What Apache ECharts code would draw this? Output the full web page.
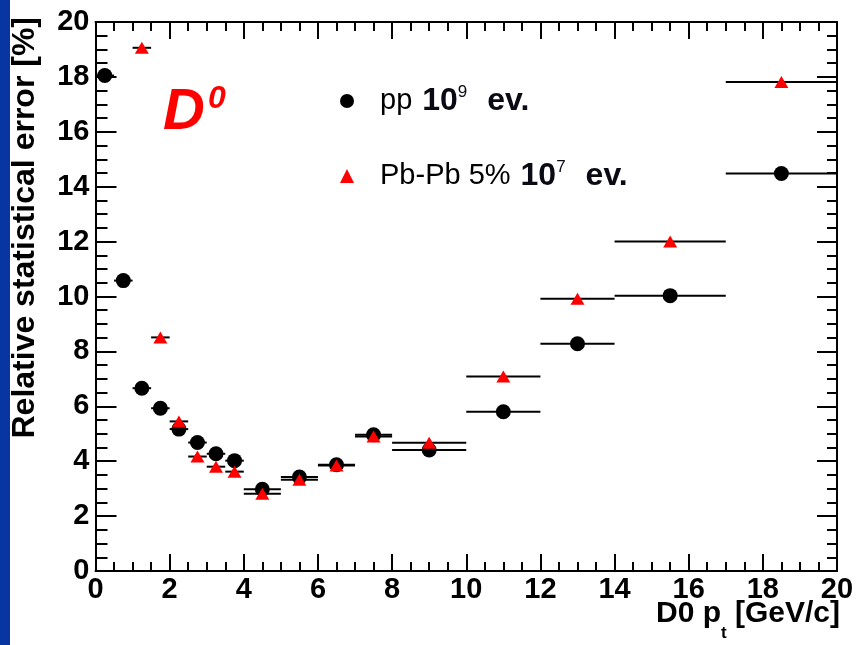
<!DOCTYPE html>
<html>
<head>
<meta charset="utf-8">
<script src="https://cdn.jsdelivr.net/npm/echarts@6/dist/echarts.min.js"></script>
<style>
  html, body { margin: 0; padding: 0; background: #fff; }
  #chart { width: 861px; height: 645px; }
</style>
</head>
<body>
<div id="chart"></div>
<script>
// pt bins [GeV/c]
var binLow = [0, 0.5, 1, 1.5, 2, 2.5, 3, 3.5, 4, 5, 6, 7, 8, 10, 12, 14, 17]
var binHigh = [0.5, 1, 1.5, 2, 2.5, 3, 3.5, 4, 5, 6, 7, 8, 10, 12, 14, 17, 20]
var binCenter = [0.25, 0.75, 1.25, 1.75, 2.25, 2.75, 3.25, 3.75, 4.5, 5.5, 6.5, 7.5, 9, 11, 13, 15.5, 18.5]

// relative statistical error [%]
var ppErr = [18.05, 10.58, 6.66, 5.93, 5.17, 4.68, 4.27, 4.02, 2.98, 3.42, 3.87, 4.96, 4.41, 5.8, 8.28, 10.03, 14.48]
var pbErr = [null, null, 19.06, 8.51, 5.45, 4.17, 3.8, 3.62, 2.81, 3.32, 3.84, 4.9, 4.67, 7.09, 9.92, 12.0, 17.81]

var xTicks = [0, 2, 4, 6, 8, 10, 12, 14, 16, 18, 20]
var yTicks = [0, 2, 4, 6, 8, 10, 12, 14, 16, 18, 20]

var FONT = 'Liberation Sans, Arial, sans-serif'

function points (vals) {
  var out = []
  vals.forEach(function (v, i) {
    if (v !== null) out.push([binCenter[i], v])
  })
  return out
}

function bars (vals) {
  var out = []
  vals.forEach(function (v, i) {
    if (v !== null) out.push([binLow[i], binHigh[i], v])
  })
  return out
}

function renderBar (params, api) {
  var a = api.coord([api.value(0), api.value(2)])
  var b = api.coord([api.value(1), api.value(2)])
  return {
    type: 'line',
    shape: { x1: a[0], y1: a[1], x2: b[0], y2: b[1] },
    style: { stroke: '#000', lineWidth: 2 }
  }
}

function axisBase (pos, tickLen, minorLen, showLabel) {
  var isX = pos === 'bottom' || pos === 'top'
  var ticks = isX ? xTicks : yTicks
  return {
    type: 'value',
    position: pos,
    min: ticks[0],
    max: ticks[ticks.length - 1],
    interval: ticks[1] - ticks[0],
    axisLine: { show: true, onZero: false, lineStyle: { color: '#000', width: 2 } },
    axisTick: { show: true, inside: true, length: tickLen, lineStyle: { color: '#000', width: 2 } },
    minorTick: { show: true, splitNumber: 4, length: minorLen, lineStyle: { color: '#000', width: 2 } },
    splitLine: { show: false },
    axisLabel: {
      show: showLabel,
      color: '#000',
      fontSize: 29,
      fontWeight: 'bold',
      fontFamily: FONT,
      margin: isX ? 4 : 6
    }
  }
}

var legendText = {
  pp: '{n|pp}{b|10}{s|9}{e|ev.}',
  'Pb-Pb 5%': '{n|Pb-Pb 5%}{b|10}{s|7}{e|ev.}'
}

var option = {
  animation: false,
  backgroundColor: '#fff',
  grid: { left: 95.5, right: 24, top: 22, bottom: 74 },
  xAxis: [
    axisBase('bottom', 17, 9, true),
    axisBase('top', 17, 9, false)
  ],
  yAxis: [
    axisBase('left', 21, 12, true),
    axisBase('right', 20, 10, false)
  ],
  legend: {
    orient: 'vertical',
    left: 335,
    top: 79,
    itemGap: 42,
    itemWidth: 14,
    itemHeight: 14,
    selectedMode: false,
    data: [
      { name: 'pp', icon: 'circle' },
      { name: 'Pb-Pb 5%', icon: 'triangle', itemStyle: { color: '#ff0000' } }
    ],
    formatter: function (name) { return legendText[name] },
    textStyle: {
      rich: {
        n: { fontSize: 29, fontFamily: FONT, color: '#000', lineHeight: 34, padding: [0, 10, 0, 21] },
        b: { fontSize: 32, fontWeight: 'bold', fontFamily: FONT, color: '#0a0a14', lineHeight: 34 },
        s: { fontSize: 17, fontFamily: FONT, color: '#0a0a14', lineHeight: 22, verticalAlign: 'top' },
        e: { fontSize: 32, fontWeight: 'bold', fontFamily: FONT, color: '#0a0a14', lineHeight: 34, padding: [0, 0, 0, 20] }
      }
    }
  },
  graphic: [
    { type: 'rect', left: 0, top: 0, shape: { width: 10, height: 645 }, style: { fill: '#0836a0' } },
    {
      type: 'text',
      x: 25,
      y: 17,
      rotation: Math.PI / 2,
      style: {
        text: 'Relative statistical error [%]',
        font: 'bold 32px ' + FONT,
        fill: '#000',
        align: 'right',
        verticalAlign: 'middle'
      }
    },
    {
      type: 'text',
      x: 840,
      y: 614,
      style: {
        text: '{a|D0 p}{t|t}{a| [GeV/c]}',
        fill: '#000',
        align: 'right',
        verticalAlign: 'middle',
        rich: {
          a: { fontSize: 30, fontWeight: 'bold', fontFamily: FONT, fill: '#000', lineHeight: 32 },
          t: { fontSize: 17, fontWeight: 'bold', fontFamily: FONT, fill: '#000', lineHeight: 18, verticalAlign: 'bottom', padding: [0, 0, -12, 0] }
        }
      }
    },
    {
      type: 'text',
      x: 163,
      y: 83,
      style: {
        text: '{d|D}{s|0}',
        fill: '#ff0000',
        rich: {
          d: { fontSize: 58, fontStyle: 'italic', fontWeight: 'bold', fontFamily: FONT, fill: '#ff0000', lineHeight: 60 },
          s: { fontSize: 32, fontStyle: 'italic', fontWeight: 'bold', fontFamily: FONT, fill: '#ff0000', lineHeight: 36, verticalAlign: 'top', padding: [0, 0, 0, 3] }
        }
      }
    }
  ],
  series: [
    {
      name: 'pp bins',
      type: 'custom',
      renderItem: renderBar,
      encode: { x: [0, 1], y: 2 },
      data: bars(ppErr),
      z: 1
    },
    {
      name: 'Pb-Pb bins',
      type: 'custom',
      renderItem: renderBar,
      encode: { x: [0, 1], y: 2 },
      data: bars(pbErr),
      z: 1
    },
    {
      name: 'pp',
      type: 'scatter',
      symbol: 'circle',
      symbolSize: 15,
      itemStyle: { color: '#000', opacity: 1 },
      data: points(ppErr),
      z: 3
    },
    {
      name: 'Pb-Pb 5%',
      type: 'scatter',
      symbol: 'triangle',
      symbolSize: [14, 12],
      itemStyle: { color: '#ff0000', opacity: 1 },
      data: points(pbErr),
      z: 4
    }
  ]
}

var chart = echarts.init(document.getElementById('chart'))
chart.setOption(option)
</script>
</body>
</html>
